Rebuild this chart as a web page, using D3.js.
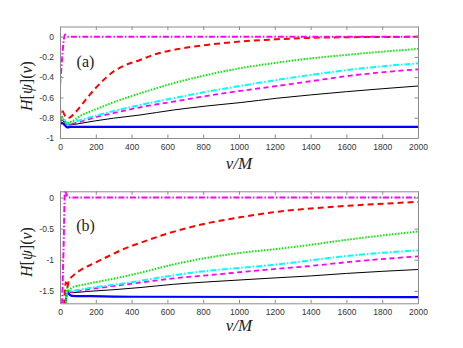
<!DOCTYPE html>
<html>
<head>
<meta charset="utf-8">
<script src="https://cdn.jsdelivr.net/npm/d3@7"></script>
<style>
  body { margin: 0; background: #fff; }
  .tick text { font-family: "Liberation Sans", Arial, sans-serif; font-size: 8.5px; fill: #333; }
  .lbl { font-family: "Liberation Serif", "Times New Roman", serif; fill: #222; }
</style>
</head>
<body>
<div id="chart"></div>
<script>
var xTicks = [0, 200, 400, 600, 800, 1000, 1200, 1400, 1600, 1800, 2000];
var aTicks = [0, -0.2, -0.4, -0.6, -0.8, -1];
var aTickLabels = ['0', '-0.2', '-0.4', '-0.6', '-0.8', '-1'];
var bTicks = [0, -0.5, -1, -1.5];
var bTickLabels = ['0', '-0.5', '-1', '-1.5'];

// panel (a): [v, H]
var aBlue = [[0,-0.87],[10,-0.85],[25,-0.87],[40,-0.895],[60,-0.89],[200,-0.89],[2000,-0.89]];
var aBlack = [[0,-0.86],[10,-0.82],[25,-0.85],[40,-0.87],[60,-0.87],[100,-0.86],[200,-0.83],[298,-0.805],[447,-0.773],[633,-0.724],[820,-0.684],[1006,-0.651],[1211,-0.608],[1400,-0.575],[1600,-0.543],[2000,-0.487]];
var aMagDash = [[0,-0.84],[10,-0.80],[25,-0.83],[40,-0.86],[60,-0.86],[100,-0.845],[200,-0.795],[298,-0.755],[447,-0.697],[633,-0.642],[820,-0.585],[1006,-0.536],[1211,-0.487],[1400,-0.44],[1600,-0.39],[2000,-0.322]];
var aCyan = [[0,-0.83],[10,-0.79],[25,-0.82],[40,-0.86],[60,-0.85],[100,-0.83],[200,-0.78],[298,-0.735],[447,-0.674],[633,-0.608],[820,-0.543],[1006,-0.487],[1211,-0.427],[1400,-0.378],[1600,-0.33],[2000,-0.263]];
var aGreen = [[0,-0.76],[20,-0.82],[40,-0.85],[60,-0.84],[121,-0.775],[214,-0.707],[298,-0.648],[447,-0.56],[633,-0.46],[820,-0.378],[1006,-0.312],[1211,-0.257],[1400,-0.215],[1600,-0.18],[2000,-0.121]];
var aRed = [[0,-0.70],[5,-0.76],[12,-0.73],[22,-0.76],[35,-0.80],[50,-0.80],[84,-0.75],[158,-0.59],[233,-0.445],[298,-0.345],[354,-0.29],[447,-0.23],[521,-0.18],[652,-0.125],[820,-0.082],[1006,-0.049],[1211,-0.026],[1400,-0.012],[1600,-0.006],[2000,-0.002]];
var aMagDot = [[0,-0.48],[8,-0.3],[17,-0.1],[28,0.02],[45,0],[2000,0]];

// panel (b): [v, H]
var bBlue = [[30,-1.75],[40,-1.52],[50,-1.55],[65,-1.58],[150,-1.585],[400,-1.595],[2000,-1.6]];
var bBlack = [[30,-1.75],[40,-1.5],[65,-1.53],[150,-1.51],[307,-1.48],[447,-1.447],[633,-1.395],[820,-1.357],[1006,-1.325],[1211,-1.29],[1400,-1.26],[1600,-1.22],[2000,-1.157]];
var bMagDash = [[30,-1.75],[40,-1.5],[65,-1.52],[150,-1.48],[307,-1.42],[447,-1.367],[633,-1.30],[820,-1.25],[1006,-1.2],[1211,-1.145],[1400,-1.10],[1600,-1.04],[2000,-0.945]];
var bCyan = [[30,-1.75],[40,-1.5],[50,-1.48],[65,-1.5],[150,-1.46],[307,-1.40],[447,-1.34],[633,-1.25],[820,-1.18],[1006,-1.13],[1211,-1.076],[1400,-1.01],[1600,-0.94],[2000,-0.85]];
var bGreen = [[30,-1.75],[40,-1.45],[48,-1.52],[65,-1.45],[150,-1.39],[307,-1.30],[447,-1.21],[633,-1.076],[820,-0.97],[1006,-0.89],[1211,-0.827],[1400,-0.76],[1600,-0.68],[2000,-0.546]];
var bRed = [[20,-1.9],[33,-1.36],[40,-1.45],[50,-1.32],[60,-1.29],[121,-1.155],[196,-1.05],[270,-0.944],[354,-0.83],[447,-0.73],[596,-0.584],[820,-0.414],[1006,-0.318],[1211,-0.229],[1400,-0.177],[1600,-0.135],[2000,-0.07]];
var bMagDot = [[10,-1.9],[20,-0.8],[28,0.12],[40,0.02],[50,0],[2000,0]];

var styles = [
  {key: 'blue', color: '#0000ff', width: 2.2, dash: null},
  {key: 'black', color: '#000000', width: 1, dash: null},
  {key: 'magdash', color: '#ff00ff', width: 1.8, dash: '5,3.5'},
  {key: 'cyan', color: '#00ffff', width: 2, dash: '6,2,1.5,2'},
  {key: 'green', color: '#00ee00', width: 2, dash: '1.5,1.5'},
  {key: 'red', color: '#ff0000', width: 2, dash: '6,4'},
  {key: 'magdot', color: '#ff00ff', width: 2, dash: '6,2,1.5,2'}
];

var width = 463, height = 348;
var left = 60, right = 418;

var svg = d3.select('#chart')
  .append('svg')
    .attr('width', width)
    .attr('height', height);

var x = d3.scaleLinear().domain([0, 2000]).range([left, right]);

function panel(id, top, bottom, yDomain, ticks, tickLabels, series, tag, tagY, yLabelY, xLabelY) {
  var y = d3.scaleLinear().domain(yDomain).range([bottom, top]);
  var g = svg.append('g');

  g.append('clipPath').attr('id', id)
    .append('rect')
      .attr('x', left).attr('y', top)
      .attr('width', right - left).attr('height', bottom - top);

  var line = d3.line()
    .x(function(d) { return x(d[0]); })
    .y(function(d) { return y(d[1]); })
    .curve(d3.curveMonotoneX);

  g.append('g').attr('clip-path', 'url(#' + id + ')')
    .selectAll('path')
    .data(series).enter()
    .append('path')
      .attr('d', function(d) { return line(d.pts); })
      .attr('fill', 'none')
      .attr('stroke', function(d) { return d.s.color; })
      .attr('stroke-width', function(d) { return d.s.width; })
      .attr('stroke-dasharray', function(d) { return d.s.dash; });

  var fmt = function(d, i) { return tickLabels[i]; };
  var ax = [
    g.append('g').attr('transform', 'translate(0,' + bottom + ')')
      .call(d3.axisBottom(x).tickValues(xTicks).tickSizeInner(-3.5).tickSizeOuter(0).tickPadding(6).tickFormat(d3.format('d'))),
    g.append('g').attr('transform', 'translate(0,' + top + ')')
      .call(d3.axisTop(x).tickValues(xTicks).tickSizeInner(-3.5).tickSizeOuter(0).tickFormat('')),
    g.append('g').attr('transform', 'translate(' + left + ',0)')
      .call(d3.axisLeft(y).tickValues(ticks).tickSizeInner(-3.5).tickSizeOuter(0).tickPadding(6).tickFormat(fmt)),
    g.append('g').attr('transform', 'translate(' + right + ',0)')
      .call(d3.axisRight(y).tickValues(ticks).tickSizeInner(-3.5).tickSizeOuter(0).tickFormat(''))
  ];
  ax.forEach(function(a) {
    a.selectAll('.domain').attr('stroke', '#8c8c8c');
    a.selectAll('.tick line').attr('stroke', '#8c8c8c');
  });

  g.append('text').attr('class', 'lbl')
    .attr('x', 85.5).attr('y', tagY)
    .attr('text-anchor', 'middle')
    .style('font-size', '16px')
    .text(tag);

  var yl = g.append('text').attr('class', 'lbl')
    .attr('transform', 'translate(32,' + yLabelY + ') rotate(-90)')
    .attr('text-anchor', 'middle')
    .style('font-size', '16px')
    .style('font-style', 'italic');
  yl.append('tspan').text('H');
  yl.append('tspan').style('font-style', 'normal').text('[');
  yl.append('tspan').text('ψ');
  yl.append('tspan').style('font-style', 'normal').text('](');
  yl.append('tspan').text('v');
  yl.append('tspan').style('font-style', 'normal').text(')');

  g.append('text').attr('class', 'lbl')
    .attr('x', (left + right) / 2).attr('y', xLabelY)
    .attr('text-anchor', 'middle')
    .style('font-size', '17px')
    .style('font-style', 'italic')
    .text('v/M');
}

function mk(list) {
  return list.map(function(pts, i) { return {s: styles[i], pts: pts}; });
}

panel('clipA', 26.5, 138, [-1, 0.1], aTicks, aTickLabels,
  mk([aBlue, aBlack, aMagDash, aCyan, aGreen, aRed, aMagDot]), '(a)', 67, 86, 169);
panel('clipB', 191.3, 303.3, [-1.7, 0.1], bTicks, bTickLabels,
  mk([bBlue, bBlack, bMagDash, bCyan, bGreen, bRed, bMagDot]), '(b)', 231, 252, 331);
</script>
</body>
</html>
